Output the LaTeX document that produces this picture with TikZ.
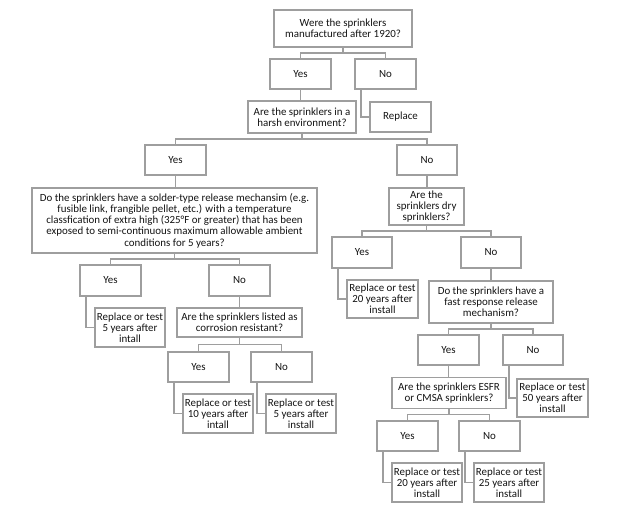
\documentclass[tikz,border=0pt]{standalone}
\usepackage{fontspec}
\setmainfont{Carlito}
\usetikzlibrary{calc}

\begin{document}
\begin{tikzpicture}[x=0.75pt, y=-0.75pt,
    box/.style 2 args={draw=black!38, line width=0.9pt, fill=white, align=center, inner sep=0.5pt,
        text=black!92, font=\fontsize{8.2}{8.4}\selectfont,
        minimum width=#1*0.75pt, minimum height=#2*0.75pt},
    link/.style={draw=black!38, line width=0.9pt}]
    \useasboundingbox (0,0) rectangle (624,516);

    \node[box={138}{37}] (q1) at (343,28.5) {Were the sprinklers\\manufactured after 1920?};
    \node[box={61}{30}] (y1) at (300.5,74) {Yes};
    \node[box={61}{30}] (n1) at (385.5,74) {No};
    \node[box={108}{32}] (q2) at (302,117) {Are the sprinklers in a\\harsh environment?};
    \node[box={61}{30}] (r1) at (400.5,117) {Replace};
    \node[box={61}{30}] (y2) at (175.5,160) {Yes};
    \node[box={60}{30}] (n2) at (427,160) {No};

    \node[box={285}{65}] (q3) at (174.5,220.5) {Do the sprinklers have a solder-type release mechansim (e.g.\\fusible link, frangible pellet, etc.) with a temperature\\classfication of extra high (325°F or greater) that has been\\exposed to semi-continuous maximum allowable ambient\\conditions for 5 years?};
    \node[box={61}{31}] (y6) at (110.5,280.5) {Yes};
    \node[box={61}{31}] (n6) at (239.5,280.5) {No};
    \node[box={70}{39}] (r6) at (130,327.5) {Replace or test\\5 years after\\intall};
    \node[box={125}{29}] (q7) at (239.5,322.5) {Are the sprinklers listed as\\corrosion resistant?};
    \node[box={61}{30}] (y7) at (198.5,367) {Yes};
    \node[box={61}{30}] (n7) at (281.5,367) {No};
    \node[box={70}{39}] (r7) at (218,413.5) {Replace or test\\10 years after\\intall};
    \node[box={70}{39}] (r8) at (301,413.5) {Replace or test\\5 years after\\install};

    \node[box={75}{37}] (q4) at (426.5,206.5) {Are the\\sprinklers dry\\sprinklers?};
    \node[box={60}{31}] (y3) at (362,252.5) {Yes};
    \node[box={60}{31}] (n3) at (491,252.5) {No};
    \node[box={71}{38}] (r2) at (382.5,299) {Replace or test\\20 years after\\install};
    \node[box={124}{42}] (q5) at (491,302) {Do the sprinklers have a\\fast response release\\mechanism?};
    \node[box={61}{30}] (y4) at (448.5,350) {Yes};
    \node[box={60}{30}] (n4) at (533,350) {No};
    \node[box={114}{31}] (q6) at (449,393) {Are the sprinklers ESFR\\or CMSA sprinklers?};
    \node[box={71}{38}] (r3) at (552.5,398) {Replace or test\\50 years after\\install};
    \node[box={61}{30}] (y5) at (407.5,436) {Yes};
    \node[box={61}{30}] (n5) at (489.5,436) {No};
    \node[box={70}{39}] (r4) at (427,482.5) {Replace or test\\20 years after\\install};
    \node[box={70}{39}] (r5) at (509,482.5) {Replace or test\\25 years after\\install};

    \foreach \p/\a/\b in {q1/y1/n1, q2/y2/n2, q3/y6/n6, q7/y7/n7, q4/y3/n3, q5/y4/n4, q6/y5/n5} {
        \coordinate (f\p) at ($(\p.south)!0.5!(\p.south |- \a.north)$);
        \draw[link] (\p.south) -- (f\p);
        \draw[link] (\a.north) |- (f\p) -| (\b.north);
    }
    \foreach \a/\b in {y1/q2, y2/q3, n2/q4, n3/q5, y4/q6, n6/q7}
        \draw[link] (\a.south) -- (\a.south |- \b.north);
    \foreach \a/\b in {n1/r1, y6/r6, y7/r7, n7/r8, y3/r2, n4/r3, y5/r4, n5/r5}
        \draw[link] ([xshift=5pt]\a.south west) |- (\b.west);
\end{tikzpicture}
\end{document}
